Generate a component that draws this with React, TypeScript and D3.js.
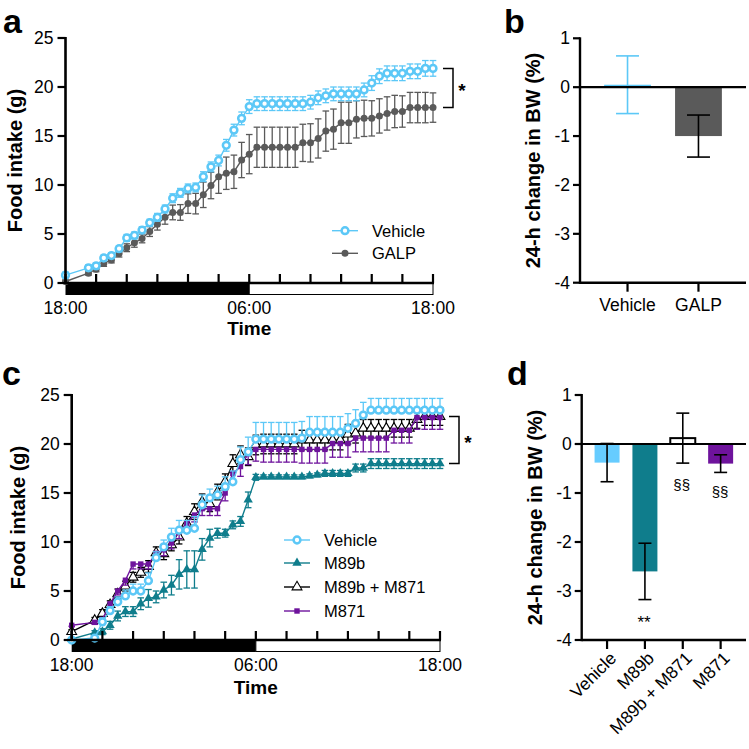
import React from 'react';
import * as d3 from 'd3';

const FONT = "'Liberation Sans', Arial, Helvetica, sans-serif";

// ---------- data ----------
const times = [0,1.5,2,2.5,3,3.5,4,4.5,5,5.5,6,6.5,7,7.5,8,8.5,9,9.5,10,10.5,11,11.5,12,12.5,13,13.5,14,14.5,15,15.5,16,16.5,17,17.5,18,18.5,19,19.5,20,20.5,21,21.5,22,22.5,23,23.5,24];

const vehA = [0.8,1.55,1.75,2.55,2.8,3.5,4.6,4.85,5.4,6.15,6.7,7.55,8.65,9.2,9.65,9.75,10.85,11.85,12.5,14.05,15.6,16.8,18.0,18.3,18.3,18.3,18.3,18.3,18.3,18.3,18.45,18.9,19.1,19.3,19.3,19.3,19.3,19.7,20.4,21.1,21.4,21.4,21.4,21.6,21.6,21.9,21.9];
const vehASem = [0.3,0.3,0.3,0.3,0.3,0.3,0.35,0.35,0.35,0.35,0.4,0.4,0.45,0.45,0.45,0.45,0.5,0.5,0.55,0.6,0.6,0.65,0.7,0.7,0.7,0.7,0.7,0.7,0.7,0.7,0.7,0.7,0.7,0.7,0.7,0.7,0.7,0.7,0.75,0.75,0.75,0.75,0.75,0.75,0.75,0.8,0.8];
const galpA = [0.15,1.0,1.4,2.0,2.35,3.0,3.6,4.1,4.55,5.25,6.0,6.7,7.2,7.2,8.1,8.1,9.0,9.95,10.85,11.2,11.35,12.55,13.15,13.85,13.85,13.85,13.85,13.85,13.85,14.3,14.3,14.75,15.5,15.7,16.35,16.35,16.7,16.8,16.8,17.05,17.3,17.5,17.5,17.9,17.9,17.9,17.9];
const galpASem = [0.15,0.2,0.25,0.3,0.3,0.35,0.4,0.45,0.45,0.5,0.6,0.7,0.75,0.8,1.0,1.05,1.3,1.35,1.7,1.65,1.7,1.8,2.0,2.05,2.05,2.05,2.05,2.05,2.05,1.9,1.95,2.0,2.05,2.05,2.1,2.1,1.9,1.85,1.8,1.75,1.7,1.65,1.6,1.55,1.55,1.55,1.5];

const vehC = [0,0.2,1.85,3.0,3.9,4.5,5.0,5.0,6.05,8.4,9.5,10.5,11.2,11.2,11.4,13.8,14.5,14.8,15.65,16.15,18.4,19.2,20.5,20.5,20.5,20.5,20.5,20.5,20.6,21.2,21.2,21.2,21.2,21.2,21.6,22.1,22.95,23.45,23.45,23.45,23.45,23.45,23.45,23.45,23.45,23.45,23.45];
const vehCSem = [0.1,0.2,0.4,0.4,0.5,0.6,0.7,0.7,0.8,0.6,0.7,0.9,1.0,1.0,1.2,1.0,0.9,0.9,1.0,1.1,1.3,1.5,1.7,1.7,1.7,1.7,1.7,1.7,1.7,1.6,1.6,1.6,1.6,1.6,1.5,1.4,1.3,1.2,1.2,1.2,1.2,1.2,1.2,1.2,1.2,1.2,1.2];
const m89bC = [0.1,0.75,0.85,1.5,2.45,2.9,2.9,3.7,4.25,4.4,5.1,5.6,6.7,7.2,7.2,9.25,10.4,10.9,10.9,11.75,12.1,14.3,16.6,16.65,16.65,16.65,16.65,16.65,16.65,16.75,16.85,17.0,17.0,17.0,17.0,17.55,17.55,18.0,18.0,18.0,18.0,18.0,18.0,18.0,18.0,18.0,18.0];
const m89bCSem = [0.05,0.2,0.3,0.4,0.5,0.5,0.5,0.6,0.9,0.6,0.8,1.0,1.5,1.9,1.9,1.1,0.9,0.5,0.4,0.4,0.5,0.8,0.3,0.2,0.2,0.2,0.2,0.2,0.2,0.2,0.2,0.3,0.3,0.3,0.3,0.4,0.4,0.5,0.5,0.5,0.5,0.5,0.5,0.5,0.5,0.5,0.5];
const comboC = [0.85,2.0,2.7,3.6,4.7,5.5,6.4,6.9,7.5,8.9,8.8,9.7,10.5,11.9,13.1,14.1,13.9,15.1,16.15,18.0,18.9,18.7,19.9,20.0,20.0,20.0,20.0,20.0,20.4,20.4,20.4,20.4,20.4,20.4,21.0,21.1,21.6,21.6,21.6,21.6,21.6,21.6,21.6,22.5,22.8,22.8,22.8];
const comboCSem = [0.2,0.3,0.4,0.4,0.5,0.5,0.5,0.5,0.6,0.6,0.6,0.6,0.7,0.7,0.8,0.8,0.8,0.8,0.8,0.9,0.9,0.9,1.0,1.0,1.0,1.0,1.0,1.0,1.0,1.0,1.0,1.0,1.0,1.0,1.0,1.0,0.9,0.9,0.9,0.9,0.9,0.9,0.9,0.9,0.9,0.9,0.9];
const m871C = [1.5,1.8,2.1,3.7,5.0,6.1,7.75,7.75,7.75,8.85,9.2,9.9,11.05,11.9,12.75,13.4,13.4,13.4,15.0,17.0,17.7,19.0,19.45,19.45,19.45,19.45,19.45,19.45,19.45,19.45,19.45,19.45,20.05,20.05,20.05,20.6,20.6,20.6,20.6,20.6,21.4,21.4,21.4,22.7,22.7,22.7,22.7];
const m871CSem = [0.1,0.2,0.3,0.4,0.4,0.5,0.5,0.5,0.5,0.6,0.6,0.6,0.7,0.7,0.7,0.7,0.7,0.7,0.8,0.9,1.0,1.1,1.2,1.3,1.3,1.3,1.3,1.3,1.4,1.4,1.4,1.4,1.4,1.4,1.4,1.4,1.4,1.4,1.4,1.4,1.3,1.3,1.3,1.2,1.2,1.2,1.2];

const timeTickHours = [0,2,4,6,8,10,12,14,16,18,20,22,24];
const timeLabelHours = [0,12,24];
const timeLabelTexts = ['18:00','06:00','18:00'];

const catsB = ['Vehicle','GALP'];
const valsB = [0.05,-1.0];
const semsB = [0.59,0.43];

const catsD = ['Vehicle','M89b','M89b + M871','M871'];
const valsD = [-0.38,-2.6,0.12,-0.4];
const semsD = [0.39,0.575,0.51,0.18];

// ---------- colours ----------
const BLUE = '#5cc8f7';
const GREY = '#5a5a5a';
const TEAL = '#0f7d8c';
const PURPLE = '#6e139c';
const BAR_BLUE = '#66ccff';

type Marker = 'circleOpen' | 'circle' | 'tri' | 'triOpen' | 'square';

function MarkerEl({kind, cx, cy, color}: {kind: Marker; cx: number; cy: number; color: string}) {
  if (kind === 'circleOpen') return <circle cx={cx} cy={cy} r={3.4} fill="#fff" stroke={color} strokeWidth={2.5} />;
  if (kind === 'circle') return <circle cx={cx} cy={cy} r={3.5} fill={color} />;
  if (kind === 'tri') return <path transform={`translate(${cx},${cy})`} d={d3.symbol(d3.symbolTriangle, 38)() as string} fill={color} />;
  if (kind === 'triOpen') return <path transform={`translate(${cx},${cy})`} d={d3.symbol(d3.symbolTriangle, 42)() as string} fill="#fff" stroke="#000" strokeWidth={1.1} />;
  return <rect x={cx - 2.7} y={cy - 2.7} width={5.4} height={5.4} fill={color} />;
}

interface SeriesDef {
  name: string;
  values: number[];
  sems: number[];
  color: string;
  marker: Marker;
  dir: 'up' | 'down' | 'both';
}

interface LinePanelProps {
  x0: number; x1: number; yb: number; yt: number;
  series: SeriesDef[];
  legendOrder: SeriesDef[];
  legendX: number; legendYs: number[];
  bracketTop: number; bracketBottom: number; bracketX: number;
  yTitleX: number; timeBaseline: number; tickBaseline: number;
}

function LinePanel(p: LinePanelProps) {
  const x = d3.scaleLinear().domain([0, 24]).range([p.x0, p.x1]);
  const y = d3.scaleLinear().domain([0, 25]).range([p.yb, p.yt]);
  const line = d3.line<number>().x((_, i) => x(times[i])).y(d => y(d));
  const cap = 3.3;
  const yTicks = y.ticks(5);
  return (
    <g>
      {/* light/dark bar */}
      <rect x={x(0)} y={p.yb} width={x(12) - x(0)} height={12} fill="#000" />
      <rect x={x(12)} y={p.yb + 0.5} width={x(24) - x(12)} height={11} fill="#fff" stroke="#000" strokeWidth={1} />
      {/* series */}
      {p.series.map(s => (
        <g key={s.name}>
          <path d={line(s.values) as string} fill="none" stroke={s.marker === 'triOpen' ? '#000' : s.color} strokeWidth={1.4} />
          {s.values.map((v, i) => {
            const cx = x(times[i]);
            const top = s.dir === 'down' ? v : v + s.sems[i];
            const bot = s.dir === 'up' ? v : v - s.sems[i];
            const c = s.marker === 'triOpen' ? '#000' : s.color;
            return (
              <g key={i} stroke={c} strokeWidth={1.3}>
                <line x1={cx} x2={cx} y1={y(top)} y2={y(bot)} />
                {s.dir !== 'down' && <line x1={cx - cap} x2={cx + cap} y1={y(top)} y2={y(top)} />}
                {s.dir !== 'up' && <line x1={cx - cap} x2={cx + cap} y1={y(bot)} y2={y(bot)} />}
              </g>
            );
          })}
          {s.values.map((v, i) => (
            <MarkerEl key={'m' + i} kind={s.marker} cx={x(times[i])} cy={y(v)} color={s.color} />
          ))}
        </g>
      ))}
      {/* axes */}
      <line x1={p.x0} x2={p.x0} y1={p.yt - 1} y2={p.yb} stroke="#000" strokeWidth={2.6} />
      <line x1={p.x0 - 1} x2={p.x1 + 1} y1={p.yb} y2={p.yb} stroke="#000" strokeWidth={2.6} />
      {timeTickHours.map(h => (
        <line key={h} x1={x(h)} x2={x(h)} y1={p.yb} y2={p.yb - 9} stroke="#000" strokeWidth={2.2} />
      ))}
      {yTicks.map(t => (
        <g key={t}>
          <line x1={p.x0 - 8} x2={p.x0} y1={y(t)} y2={y(t)} stroke="#000" strokeWidth={2.2} />
          <text x={p.x0 - 12} y={y(t) + 6} textAnchor="end" fontSize={17.5} fontFamily={FONT}>{t}</text>
        </g>
      ))}
      {timeLabelHours.map((h, i) => (
        <text key={i} x={x(h)} y={p.tickBaseline} textAnchor="middle" fontSize={17.5} fontFamily={FONT}>{timeLabelTexts[i]}</text>
      ))}
      <text x={x(12)} y={p.timeBaseline} textAnchor="middle" fontSize={19} fontWeight="bold" fontFamily={FONT}>Time</text>
      <text transform={`translate(${p.yTitleX},${(p.yt + p.yb) / 2}) rotate(-90)`} textAnchor="middle" dy="0.35em" fontSize={20} fontWeight="bold" fontFamily={FONT}>Food intake (g)</text>
      {/* bracket */}
      <path d={`M${p.bracketX - 10},${y(p.bracketTop)}H${p.bracketX}V${y(p.bracketBottom)}H${p.bracketX - 10}`} fill="none" stroke="#000" strokeWidth={1.5} />
      <text x={p.bracketX + 9} y={(y(p.bracketTop) + y(p.bracketBottom)) / 2 + 9} textAnchor="middle" fontSize={19} fontWeight="bold" fontFamily={FONT}>*</text>
      {/* legend */}
      {p.legendOrder.map((s, i) => {
        const ly = p.legendYs[i];
        const c = s.marker === 'triOpen' ? '#000' : s.color;
        return (
          <g key={s.name}>
            <line x1={p.legendX - 13} x2={p.legendX + 13} y1={ly} y2={ly} stroke={c} strokeWidth={1.4} />
            <MarkerEl kind={s.marker} cx={p.legendX} cy={ly} color={s.color} />
            <text x={p.legendX + 27} y={ly + 6} fontSize={16.5} fontFamily={FONT}>{s.name}</text>
          </g>
        );
      })}
    </g>
  );
}

interface BarPanelProps {
  x0: number; x1: number; yb: number; yt: number;
  cats: string[]; vals: number[]; sems: number[];
  fills: string[]; strokes: string[]; errColors: string[];
  rotate: boolean; capW: number; padIn: number;
}

function BarPanel(p: BarPanelProps) {
  const y = d3.scaleLinear().domain([-4, 1]).range([p.yb, p.yt]);
  const xb = d3.scaleBand<string>().domain(p.cats).range([p.x0, p.x1]).paddingInner(p.padIn).paddingOuter(p.padIn);
  const bw = xb.bandwidth();
  return (
    <g>
      {p.cats.map((c, i) => {
        const v = p.vals[i];
        const bx = xb(c) as number;
        return (
          <rect key={c} x={bx} y={Math.min(y(v), y(0))} width={bw} height={Math.max(Math.abs(y(v) - y(0)), 0.5)}
            fill={p.fills[i]} stroke={p.strokes[i]} strokeWidth={p.strokes[i] === 'none' ? 0 : 2} />
        );
      })}
      {p.cats.map((c, i) => {
        const cx = (xb(c) as number) + bw / 2;
        const hi = p.vals[i] + p.sems[i];
        const lo = p.vals[i] - p.sems[i];
        return (
          <g key={'e' + c} stroke={p.errColors[i]} strokeWidth={1.6}>
            <line x1={cx} x2={cx} y1={y(hi)} y2={y(lo)} />
            <line x1={cx - p.capW / 2} x2={cx + p.capW / 2} y1={y(hi)} y2={y(hi)} />
            <line x1={cx - p.capW / 2} x2={cx + p.capW / 2} y1={y(lo)} y2={y(lo)} />
          </g>
        );
      })}
      <line x1={p.x0} x2={p.x1} y1={y(0)} y2={y(0)} stroke="#000" strokeWidth={2.2} />
      <line x1={p.x0} x2={p.x1} y1={p.yb} y2={p.yb} stroke="#000" strokeWidth={2.4} />
      <line x1={p.x0} x2={p.x0} y1={p.yt - 1} y2={p.yb + 1.2} stroke="#000" strokeWidth={2.4} />
      {y.ticks(5).map(t => (
        <g key={t}>
          <line x1={p.x0 - 7} x2={p.x0} y1={y(t)} y2={y(t)} stroke="#000" strokeWidth={2.2} />
          <text x={p.x0 - 10} y={y(t) + 6} textAnchor="end" fontSize={17.5} fontFamily={FONT}>{String(t)}</text>
        </g>
      ))}
      {p.cats.map(c => {
        const cx = (xb(c) as number) + bw / 2;
        return (
          <g key={'t' + c}>
            <line x1={cx} x2={cx} y1={p.yb} y2={p.yb + 9} stroke="#000" strokeWidth={2.2} />
            {p.rotate ? (
              <text transform={`translate(${cx + 6},${p.yb + 15}) rotate(-45)`} textAnchor="end" dy="0.35em" fontSize={17.5} fontFamily={FONT}>{c}</text>
            ) : (
              <text x={cx} y={p.yb + 28} textAnchor="middle" fontSize={17.5} fontFamily={FONT}>{c}</text>
            )}
          </g>
        );
      })}
      <text transform={`translate(${p.x0 - 47},${(p.yt + p.yb) / 2}) rotate(-90)`} textAnchor="middle" dy="0.35em" fontSize={20} fontWeight="bold" fontFamily={FONT}>24-h change in BW (%)</text>
    </g>
  );
}

export default function App() {
  const seriesA: SeriesDef[] = [
    { name: 'GALP', values: galpA, sems: galpASem, color: GREY, marker: 'circle', dir: 'both' },
    { name: 'Vehicle', values: vehA, sems: vehASem, color: BLUE, marker: 'circleOpen', dir: 'both' },
  ];
  const vehCS: SeriesDef = { name: 'Vehicle', values: vehC, sems: vehCSem, color: BLUE, marker: 'circleOpen', dir: 'up' };
  const m89bS: SeriesDef = { name: 'M89b', values: m89bC, sems: m89bCSem, color: TEAL, marker: 'tri', dir: 'both' };
  const comboS: SeriesDef = { name: 'M89b + M871', values: comboC, sems: comboCSem, color: '#000', marker: 'triOpen', dir: 'both' };
  const m871S: SeriesDef = { name: 'M871', values: m871C, sems: m871CSem, color: PURPLE, marker: 'square', dir: 'down' };

  return (
    <svg width={749} height={749} style={{ position: 'absolute', left: 0, top: 0, background: '#fff' }}>
      <rect width={749} height={749} fill="#fff" />
      {/* panel letters */}
      <text x={3} y={33} fontSize={34} fontWeight="bold" fontFamily={FONT}>a</text>
      <text x={504} y={33} fontSize={34} fontWeight="bold" fontFamily={FONT}>b</text>
      <text x={2} y={385} fontSize={34} fontWeight="bold" fontFamily={FONT}>c</text>
      <text x={507} y={385} fontSize={34} fontWeight="bold" fontFamily={FONT}>d</text>

      <LinePanel x0={65.5} x1={433} yb={283} yt={38}
        series={seriesA}
        legendOrder={[seriesA[1], seriesA[0]]}
        legendX={345} legendYs={[230.7, 253.3]}
        bracketTop={vehA[vehA.length - 1]} bracketBottom={galpA[galpA.length - 1]} bracketX={453}
        yTitleX={15} timeBaseline={335} tickBaseline={314} />

      <LinePanel x0={71.7} x1={440} yb={640} yt={395}
        series={[m89bS, comboS, m871S, vehCS]}
        legendOrder={[vehCS, m89bS, comboS, m871S]}
        legendX={297} legendYs={[540, 563, 587, 611]}
        bracketTop={comboC[comboC.length - 1]} bracketBottom={m89bC[m89bC.length - 1]} bracketX={459}
        yTitleX={18} timeBaseline={694} tickBaseline={671} />

      <BarPanel x0={580} x1={746} yb={282.7} yt={38.3}
        cats={catsB} vals={valsB} sems={semsB}
        fills={[BLUE, GREY]} strokes={['none', 'none']} errColors={[BLUE, '#000']}
        rotate={false} capW={23} padIn={0.34} />

      <BarPanel x0={581.7} x1={746} yb={640} yt={395}
        cats={catsD} vals={valsD} sems={semsD}
        fills={[BAR_BLUE, TEAL, '#fff', PURPLE]} strokes={['none', 'none', '#000', 'none']} errColors={['#000', '#000', '#000', '#000']}
        rotate={true} capW={13} padIn={0.34} />

      <text x={644} y={628} textAnchor="middle" fontSize={17} fontFamily={FONT}>**</text>
      <text x={681.7} y={490} textAnchor="middle" fontSize={15} fontFamily={FONT}>§§</text>
      <text x={720} y={497} textAnchor="middle" fontSize={15} fontFamily={FONT}>§§</text>
    </svg>
  );
}
